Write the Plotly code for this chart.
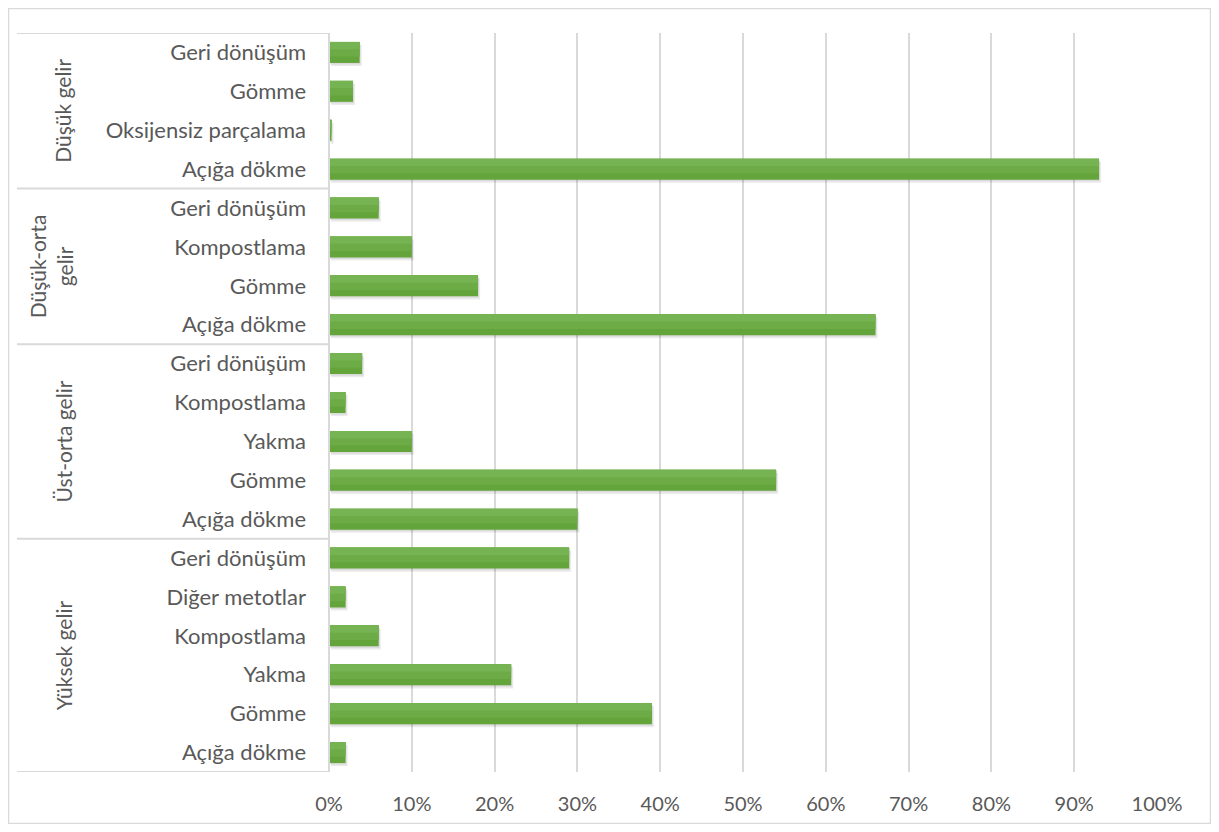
import plotly.graph_objects as go

# ---- data ----
groups = ["Düşük gelir", "Düşük-orta<br>gelir", "Üst-orta gelir", "Yüksek gelir"]
methods_low = ["Geri dönüşüm", "Gömme", "Oksijensiz parçalama", "Açığa dökme"]
values_low = [3.7, 2.9, 0.3, 93]
methods_lowmid = ["Geri dönüşüm", "Kompostlama", "Gömme", "Açığa dökme"]
values_lowmid = [6, 10, 18, 66]
methods_upmid = ["Geri dönüşüm", "Kompostlama", "Yakma", "Gömme", "Açığa dökme"]
values_upmid = [4, 2, 10, 54, 30]
methods_high = ["Geri dönüşüm", "Diğer metotlar", "Kompostlama", "Yakma", "Gömme", "Açığa dökme"]
values_high = [29, 2, 6, 22, 39, 2]
x_ticks = [0, 10, 20, 30, 40, 50, 60, 70, 80, 90, 100]

group_methods = [methods_low, methods_lowmid, methods_upmid, methods_high]
group_values = [values_low, values_lowmid, values_upmid, values_high]

labels, vals = [], []
for m, v in zip(group_methods, group_values):
    labels += m
    vals += v
ypos = list(range(len(labels)))

# page has an 8px body margin
OFF = 8
W, H = 1219 - 2 * OFF, 832 - 2 * OFF
L, R, T, B = 329 - OFF, 1157 - OFF, 33 - OFF, 772 - OFF


def px(x):
    return (x - OFF - L) / (R - L)


def py(y):
    return (B - (y - OFF)) / (B - T)


BW = 0.54
fig = go.Figure()
# soft shadow
fig.add_trace(go.Bar(
    x=vals, y=ypos, orientation="h", base=0.25,
    marker=dict(color="rgba(0,0,0,0.08)", line=dict(width=0)),
    width=BW, offset=-BW / 2 + 0.08, hoverinfo="skip",
))
fig.add_trace(go.Bar(
    x=vals, y=ypos, orientation="h", base=0.12,
    marker=dict(color="rgba(0,0,0,0.07)", line=dict(width=0)),
    width=BW, offset=-BW / 2 + 0.04, hoverinfo="skip",
))
# bar body (darker lower part) + lighter upper bands for a gradient look
fig.add_trace(go.Bar(
    x=vals, y=ypos, orientation="h",
    marker=dict(color="#63a43b", line=dict(width=0)),
    width=BW, offset=-BW / 2, hovertext=labels, hoverinfo="x+text",
))
fig.add_trace(go.Bar(
    x=vals, y=ypos, orientation="h",
    marker=dict(color="#6cab46", line=dict(width=0)),
    width=BW * 0.7, offset=-BW / 2, hoverinfo="skip",
))
fig.add_trace(go.Bar(
    x=vals, y=ypos, orientation="h",
    marker=dict(color="#76b353", line=dict(width=0)),
    width=BW * 0.35, offset=-BW / 2, hoverinfo="skip",
))

grey = "#d9d9d9"
shapes = []
# outer border
shapes.append(dict(type="rect", xref="paper", yref="paper",
                   x0=px(8.5), x1=px(1210.5), y0=py(823.5), y1=py(8.5),
                   line=dict(color="#d9d9d9", width=1.5), layer="below"))
bounds = [0]
for m in group_methods:
    bounds.append(bounds[-1] + len(m))
for b in bounds:
    shapes.append(dict(type="line", xref="paper", yref="y",
                       x0=px(17), x1=0, y0=b - 0.5, y1=b - 0.5,
                       line=dict(color=grey, width=2)))
shapes.append(dict(type="line", xref="paper", yref="paper",
                   x0=0, x1=0, y0=0, y1=1, line=dict(color=grey, width=2)))

annotations = []
for g, b0, b1 in zip(groups, bounds[:-1], bounds[1:]):
    xc = px(51) if "<br>" in g else px(63)
    annotations.append(dict(text=g, xref="paper", yref="y",
                            x=xc, y=(b0 + b1 - 1) / 2, showarrow=False,
                            textangle=-90, xanchor="center", yanchor="middle",
                            font=dict(size=21, color="#595959", family="Lato")))

fig.update_layout(
    width=W, height=H, autosize=False,
    margin=dict(l=L, r=W - R, t=T, b=H - B, autoexpand=False),
    paper_bgcolor="white", plot_bgcolor="white",
    showlegend=False, barmode="overlay",
    font=dict(family="Lato", size=21, color="#595959"),
    xaxis=dict(range=[0, 100], tickvals=x_ticks,
               ticktext=[f"{t}%" for t in x_ticks],
               showgrid=True, gridcolor=grey, gridwidth=1.5,
               zeroline=False, showline=False, ticks="",
               ticklabelstandoff=18, fixedrange=True, automargin=False,
               tickfont=dict(size=20)),
    yaxis=dict(range=[len(labels) - 0.5, -0.5], tickvals=ypos, ticktext=labels,
               showgrid=False, zeroline=False, showline=False, ticks="",
               ticklabelstandoff=22, fixedrange=True, automargin=False,
               tickfont=dict(size=22)),
    shapes=shapes,
    annotations=annotations,
)

fig.write_html("out.html")
